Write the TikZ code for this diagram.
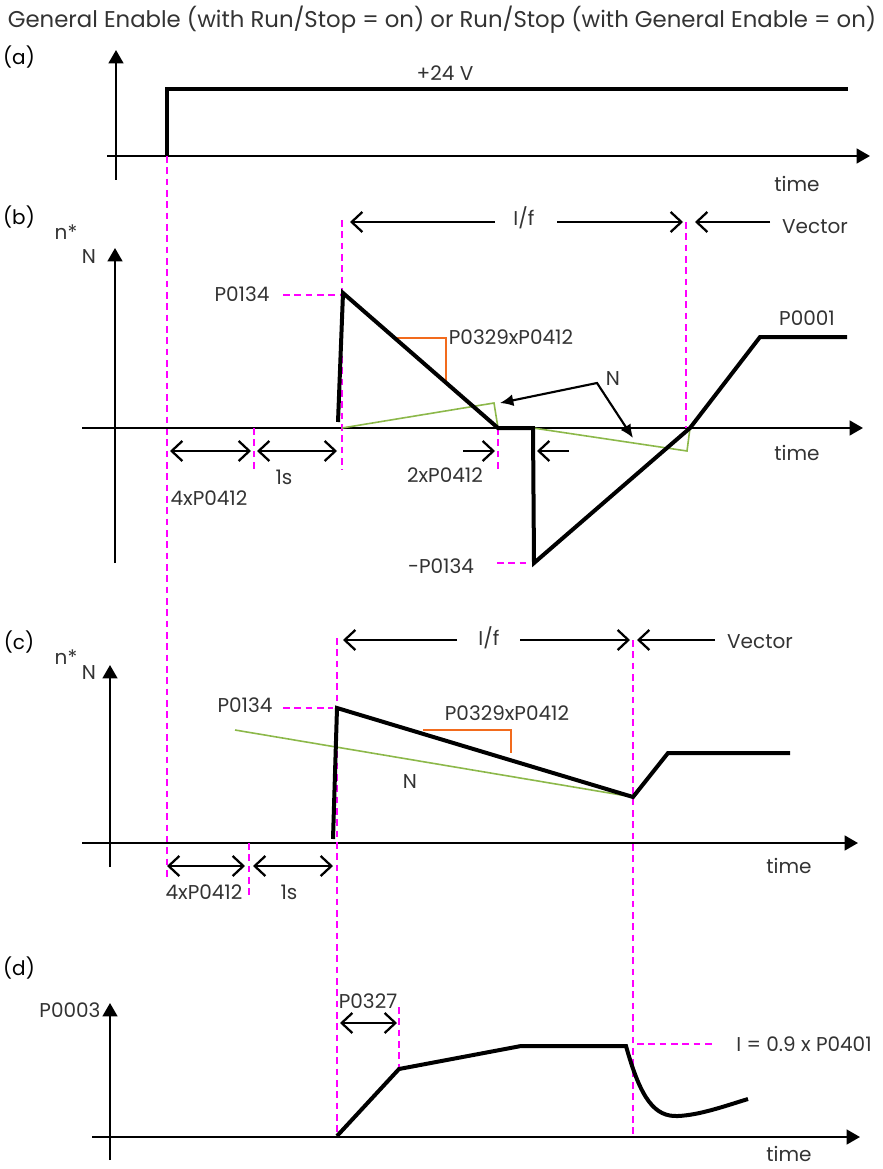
\documentclass[tikz,border=0pt]{standalone}
\usepackage{fontspec}
\setmainfont{Poppins}
\usetikzlibrary{arrows.meta}
\definecolor{mag}{HTML}{FF00FF}
\definecolor{grn}{HTML}{8CB84A}
\definecolor{org}{HTML}{F26B1D}
\definecolor{txt}{HTML}{333333}
\begin{document}
\begin{tikzpicture}[x=0.75pt,y=-0.75pt,
  axis/.style={line width=1.8pt,-{Triangle[length=10pt,width=11pt]}},
  sig/.style={line width=3pt,line join=miter},
  guide/.style={mag,line width=1.5pt,dash pattern=on 5pt off 3.5pt},
  dim/.style={line width=1.7pt,{Straight Barb[length=8pt,width=15pt]}-{Straight Barb[length=8pt,width=15pt]}},
  dimr/.style={line width=1.7pt,-{Straight Barb[length=8pt,width=15pt]}},
  refl/.style={grn,line width=1.2pt},
  slope/.style={org,line width=1.5pt},
  pointer/.style={line width=1.6pt,{Latex[length=10pt,width=9pt]}-{Latex[length=10pt,width=9pt]}},
  lbl/.style={text=txt,font=\fontsize{15pt}{17pt}\selectfont,inner sep=0pt},
  tag/.style={text=black,font=\fontsize{15pt}{17pt}\selectfont,inner sep=0pt},
  ttl/.style={text=txt,font=\fontsize{17.1pt}{19pt}\selectfont,inner sep=0pt}
]
\useasboundingbox (0,0) rectangle (882,1169);

% title
\node[ttl] (title) at (442,20) {General Enable (with Run/Stop = on) or Run/Stop (with General Enable = on)};

% ---------------- (a)
\node[tag] (ta) at (19,57) {(a)};
\draw[axis] (116,180) -- (116,50);
\draw[axis] (107,156) -- (870,156);
\draw[sig] (167,156) -- (167,89) -- (848,89);
\node[lbl] (v24) at (445,73) {+24 V};
\node[lbl] (timea) at (797,184) {time};
\draw[guide] (167,156) -- (167,878);

% ---------------- (b)
\node[tag] (tb) at (19,217) {(b)};
\node[lbl] (nb) at (66,232) {n*};
\node[lbl] (Nb) at (89,257) {N};
\draw[axis] (115,563) -- (115,248);
\draw[axis] (82,428) -- (863,428);
\node[lbl] (timeb) at (797,453) {time};

\draw[guide] (254,428) -- (254,473);
\draw[guide] (342,220) -- (342,470);
\draw[guide] (283,295) -- (342,295);
\draw[guide] (498,428) -- (498,473);
\draw[guide] (497,563) -- (530,563);
\draw[guide] (686,222) -- (686,428);

\draw[refl] (342,428) -- (494,403) -- (498,428);
\draw[refl] (533,428) -- (687,451) -- (690,428);
\draw[slope] (393,338) -- (446,338) -- (446,383);

\draw[sig] (338,422) -- (343,293) -- (498,428) -- (533,428) -- (534,563) -- (690,428) -- (760,337) -- (847,337);

\draw[pointer] (500,403) -- (597,383) -- (633,438);
\node[lbl] (Nptr) at (613,379) {N};

\node[lbl] (p134b) at (242,294) {P0134};
\node[lbl] (slb) at (511,337) {P0329xP0412};
\node[lbl] (p0001) at (807,318) {P0001};
\node[lbl] (mp134) at (441,566) {-P0134};

\draw[dimr] (495,222) -- (350,222);
\draw[dimr] (557,222) -- (683,222);
\node[lbl] (ifb) at (524,218) {I/f};
\draw[dimr] (770,222) -- (695,222);
\node[lbl] (vecb) at (815,227) {Vector};

\draw[dim] (170,451) -- (251,451);
\draw[dim] (257,451) -- (337,451);
\draw[dimr] (463,451) -- (495,451);
\draw[dimr] (569,451) -- (537,451);
\node[lbl] (fourb) at (209,498) {4xP0412};
\node[lbl] (oneb) at (284,477) {1s};
\node[lbl] (twob) at (445,475) {2xP0412};

% ---------------- (c)
\node[tag] (tc) at (19,642) {(c)};
\node[lbl] (nc) at (66,657) {n*};
\node[lbl] (Nc) at (89,673) {N};
\draw[axis] (110,867) -- (110,665);
\draw[axis] (82,843) -- (858,843);
\node[lbl] (timec) at (789,866) {time};

\draw[guide] (249,843) -- (249,897);
\draw[guide] (337,638) -- (337,1137);
\draw[guide] (283,708) -- (333,708);
\draw[guide] (633,640) -- (633,1137);

\draw[refl] (235,730) -- (633,797);
\draw[slope] (423,730) -- (511,730) -- (511,753);
\draw[sig] (333,839) -- (337,708) -- (633,797) -- (668,753) -- (790,753);

\node[lbl] (p134c) at (245,705) {P0134};
\node[lbl] (slc) at (507,713) {P0329xP0412};
\node[lbl] (Nrc) at (410,782) {N};

\draw[dimr] (457,640) -- (343,640);
\draw[dimr] (520,640) -- (630,640);
\node[lbl] (ifc) at (489,638) {I/f};
\draw[dimr] (715,640) -- (637,640);
\node[lbl] (vecc) at (760,642) {Vector};

\draw[dim] (167,866) -- (245,866);
\draw[dim] (253,866) -- (333,866);
\node[lbl] (fourc) at (204,892) {4xP0412};
\node[lbl] (onec) at (289,892) {1s};

% ---------------- (d)
\node[tag] (td) at (19,968) {(d)};
\node[lbl] (p0003) at (70,1010) {P0003};
\draw[axis] (110,1160) -- (110,1003);
\draw[axis] (92,1137) -- (860,1137);
\node[lbl] (timed) at (789,1154) {time};

\draw[guide] (399,1007) -- (399,1070);
\draw[guide] (637,1044) -- (713,1044);

\draw[sig] (337,1136) -- (399,1069) -- (521,1046) -- (626,1046)
  .. controls (641,1100) and (655,1117) .. (678,1116)
  .. controls (700,1115) and (725,1106) .. (748,1099);

\draw[dim] (340,1023) -- (397,1023);
\node[lbl] (p0327) at (368,1001) {P0327};
\node[lbl] (ilim) at (804,1044) {I = 0.9 x P0401};
\end{tikzpicture}
\end{document}
